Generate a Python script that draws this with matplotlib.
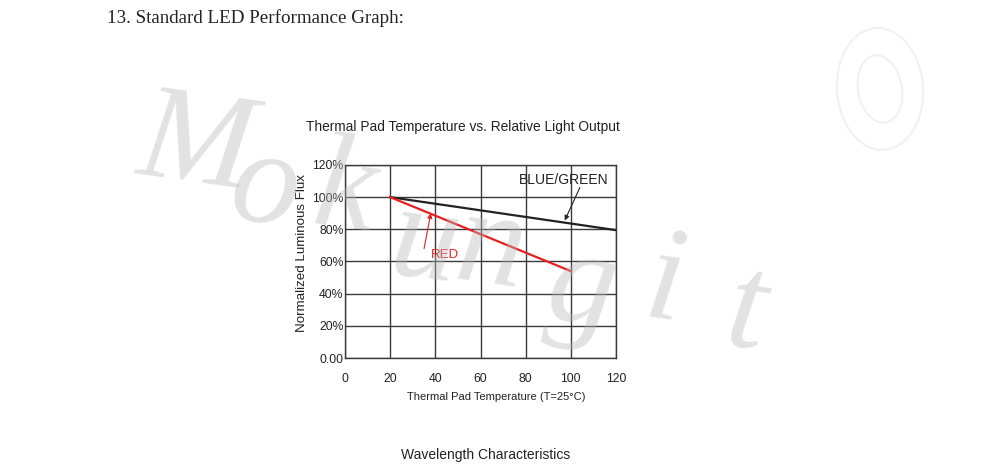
import matplotlib
matplotlib.use("Agg")
import matplotlib.pyplot as plt
from matplotlib.patches import Ellipse

# ---- data ----
temps_blue = [20, 120]
flux_blue = [100, 79.5]
temps_red = [20, 100]
flux_red = [100, 54]
x_ticks = [0, 20, 40, 60, 80, 100, 120]
y_ticks = [0, 20, 40, 60, 80, 100, 120]
y_tick_labels = ["0.00", "20%", "40%", "60%", "80%", "100%", "120%"]

SANS = ["Liberation Sans", "DejaVu Sans"]
SERIF = ["Liberation Serif", "DejaVu Serif"]
INK = "#222222"
RED = "#e62020"

fig = plt.figure(figsize=(10, 4.67), dpi=100)
fig.patch.set_facecolor("white")

ax = fig.add_axes([0.345, 0.2334, 0.271, 0.4133])
ax.set_xlim(0, 120)
ax.set_ylim(0, 120)
ax.set_xticks(x_ticks)
ax.set_yticks(y_ticks)
ax.set_yticklabels(y_tick_labels)
ax.grid(True, color="#3a3a3a", linewidth=1.0)
for s in ax.spines.values():
    s.set_color("#3a3a3a")
    s.set_linewidth(1.0)
ax.tick_params(length=0, labelsize=8.8, colors=INK)
ax.tick_params(axis="x", pad=11)
ax.tick_params(axis="y", pad=1)
for lab in ax.get_xticklabels() + ax.get_yticklabels():
    lab.set_family(SANS)

ax.plot(temps_blue, flux_blue, color=INK, linewidth=1.6, zorder=3)
ax.plot(temps_red, flux_red, color=RED, linewidth=1.6, zorder=3)

ax.text(77, 110.5, "BLUE/GREEN", fontsize=10, family=SANS, color=INK,
        ha="left", va="center")
ax.annotate("", xy=(97.3, 85.5), xytext=(104, 106),
            arrowprops=dict(arrowstyle="-|>", color=INK, lw=0.8,
                            mutation_scale=7, shrinkA=0, shrinkB=0))
ax.text(38, 64, "RED", fontsize=9.5, family=SANS, color=RED,
        ha="left", va="center")
ax.annotate("", xy=(38, 90), xytext=(35, 68),
            arrowprops=dict(arrowstyle="-|>", color=RED, lw=0.8,
                            mutation_scale=7, shrinkA=0, shrinkB=0))

fig.text(0.463, 1 - 127 / 467, "Thermal Pad Temperature vs. Relative Light Output",
         family=SANS, fontsize=9.9, color=INK, ha="center", va="center")
fig.text(0.496, 1 - 397 / 467, "Thermal Pad Temperature (T=25\u00b0C)",
         family=SANS, fontsize=8, color=INK, ha="center", va="center")
fig.text(0.302, 1 - 253 / 467, "Normalized Luminous Flux", family=SANS,
         fontsize=9.6, color=INK, ha="center", va="center", rotation=90)

fig.text(0.107, 1 - 18 / 467, "13. Standard LED Performance Graph:", family=SERIF,
         fontsize=13.7, color=INK, ha="left", va="center")
fig.text(0.486, 1 - 455 / 467, "Wavelength Characteristics", family=SANS,
         fontsize=10, color=INK, ha="center", va="center")

# watermark
letters = ["M", "o", "k", "u", "n", "g", "i", "t"]
pos = [(195, 148), (265, 190), (345, 195), (425, 245), (490, 250),
       (582, 290), (665, 287), (745, 315)]
for ch, (px, py) in zip(letters, pos):
    fig.text(px / 1000, 1 - py / 467, ch, family=SERIF, style="italic",
             fontsize=98, color="#b8b8b8", alpha=0.4, ha="center",
             va="center", rotation=-8, zorder=10)

# faint logo
fig.add_artist(Ellipse((8.80, 3.78), 0.86, 1.22, transform=fig.dpi_scale_trans,
                       fill=False, edgecolor="#f1f1f1", linewidth=1.5, angle=4))
fig.add_artist(Ellipse((8.80, 3.78), 0.44, 0.68, transform=fig.dpi_scale_trans,
                       fill=False, edgecolor="#f1f1f1", linewidth=1.5, angle=10))

fig.savefig("out.png", dpi=100, facecolor="white")
